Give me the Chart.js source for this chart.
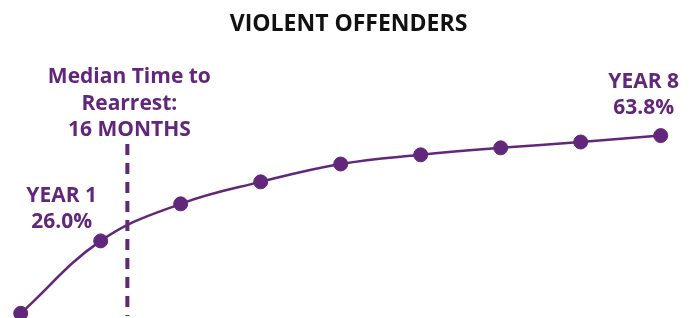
<!DOCTYPE html>
<html>
<head>
<meta charset="utf-8">
<script src="https://cdn.jsdelivr.net/npm/chart.js@4/dist/chart.umd.min.js"></script>
<style>
  html, body { margin: 0; padding: 0; background: #fff; }
  #wrap { width: 699px; height: 318px; position: relative; }
</style>
</head>
<body>
<div id="wrap"><canvas id="rearrestChart"></canvas></div>
<script>
/* taux cumulés de nouvelle arrestation – délinquants violents */

// données
const chartTitle = "VIOLENT OFFENDERS";
const years = [0, 1, 2, 3, 4, 5, 6, 7, 8];
const rearrestRates = [0, 26.0, 39.3, 47.2, 53.6, 56.9, 59.4, 61.5, 63.8];
const medianMonths = 16;
const medianLabel = ["Median Time to", "Rearrest:", "16 MONTHS"];
const firstYearLabel = ["YEAR 1", "26.0%"];
const lastYearLabel = ["YEAR 8", "63.8%"];

const purple = "#62277a";
const labelFont = "bold 21px 'Open Sans', sans-serif";

// annotations : titre, ligne médiane en pointillés + étiquettes
const annotations = {
  id: "annotations",
  afterDatasetsDraw(chart) {
    const { ctx, scales } = chart;
    const xs = scales.x, ys = scales.y;

    // titre centré sur toute la largeur
    ctx.save();
    ctx.fillStyle = "#111";
    ctx.font = "bold 23px 'Open Sans', sans-serif";
    ctx.textAlign = "center";
    ctx.textBaseline = "alphabetic";
    ctx.fillText(chartTitle, chart.width / 2 - 1, 31);
    ctx.restore();

    // ligne verticale du temps médian
    const mx = xs.getPixelForValue(medianMonths / 12);
    ctx.save();
    ctx.strokeStyle = purple;
    ctx.lineWidth = 4;
    ctx.setLineDash([11, 8]);
    ctx.beginPath();
    ctx.moveTo(mx, 144);
    ctx.lineTo(mx, 316);
    ctx.stroke();
    ctx.restore();

    // textes
    ctx.save();
    ctx.fillStyle = purple;
    ctx.font = labelFont;
    ctx.textAlign = "center";
    ctx.textBaseline = "alphabetic";
    medianLabel.forEach((t, i) => ctx.fillText(t, mx + 2, 83 + i * 26.5));

    const p1x = xs.getPixelForValue(1), p1y = ys.getPixelForValue(rearrestRates[1]);
    firstYearLabel.forEach((t, i) => ctx.fillText(t, p1x - 39, p1y - 39 + i * 26));

    const p8x = xs.getPixelForValue(8), p8y = ys.getPixelForValue(rearrestRates[8]);
    lastYearLabel.forEach((t, i) => ctx.fillText(t, p8x - 17, p8y - 48 + i * 26));
    ctx.restore();
  }
};

new Chart(document.getElementById("rearrestChart"), {
  type: "line",
  data: {
    datasets: [{
      data: years.map((y, i) => ({ x: y, y: rearrestRates[i] })),
      borderColor: purple,
      backgroundColor: purple,
      borderWidth: 2.5,
      pointRadius: 7,
      pointHoverRadius: 7,
      pointBorderWidth: 1,
      pointBackgroundColor: purple,
      pointBorderColor: purple,
      tension: 0.4,
      clip: false
    }]
  },
  options: {
    responsive: true,
    maintainAspectRatio: false,
    animation: false,
    layout: { padding: { left: 20.7, right: 38.3, top: 62.6, bottom: 8 } },
    plugins: {
      legend: { display: false },
      tooltip: { enabled: false },
      title: { display: false }
    },
    scales: {
      x: { type: "linear", min: 0, max: 8, display: false },
      y: { min: 1.2, max: 90, display: false }
    }
  },
  plugins: [annotations]
});
</script>
</body>
</html>
